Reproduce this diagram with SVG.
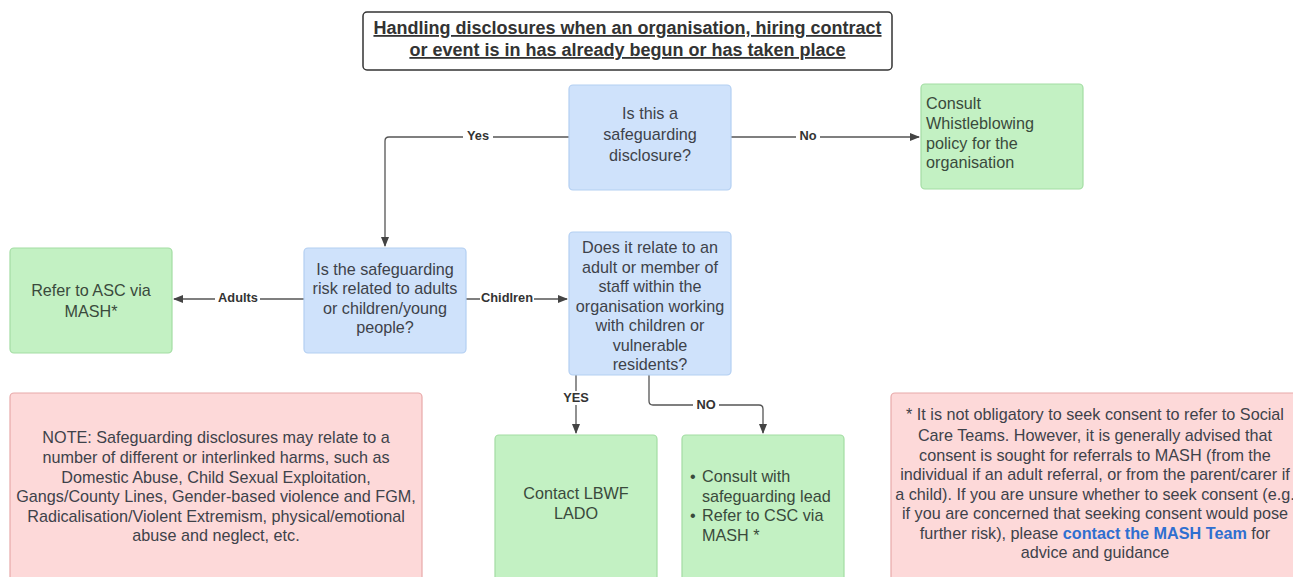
<svg xmlns="http://www.w3.org/2000/svg" width="1293" height="577" viewBox="0 0 1293 577">
<defs>
<style>
text{font-family:"Liberation Sans",Arial,sans-serif;fill:#3e424a}
.t{font-size:16.2px;text-anchor:middle}
.tl{font-size:16.2px}
.g text{fill:#3a4a3c}
.blue{fill:#cfe2fb;stroke:#b3cff2;stroke-width:1.2}
.green{fill:#c3f1c3;stroke:#a3dda3;stroke-width:1.2}
.pink{fill:#fdd9d9;stroke:#e8a9a9;stroke-width:1.2}
.ln{fill:none;stroke:#555;stroke-width:1.3}
.lb{font-size:12.8px;font-weight:bold;text-anchor:middle;fill:#333}
.bg{fill:#fff}
</style>
<marker id="ah" markerWidth="10" markerHeight="8" refX="9" refY="4" orient="auto" markerUnits="userSpaceOnUse">
<path d="M0,0 L10,4 L0,8 Z" fill="#444"/>
</marker>
</defs>
<rect width="1293" height="577" fill="#fff"/>

<g id="title">
<rect x="363" y="12" width="529" height="58" rx="4" fill="#fff" stroke="#333" stroke-width="1.5"/>
<text x="627.5" y="34" style="font-size:18px;font-weight:bold;text-anchor:middle;text-decoration:underline;fill:#333">Handling disclosures when an organisation, hiring contract</text>
<text x="627.5" y="56" style="font-size:18px;font-weight:bold;text-anchor:middle;text-decoration:underline;fill:#333">or event is in has already begun or has taken place</text>
</g>

<g id="connectors">
<path class="ln" d="M569,137 H389 Q385,137 385,141 V246" marker-end="url(#ah)"/>
<rect class="bg" x="463" y="129" width="30" height="14"/>
<text class="lb" x="478" y="140">Yes</text>
<path class="ln" d="M731,137 H919" marker-end="url(#ah)"/>
<rect class="bg" x="796" y="129" width="24" height="14"/>
<text class="lb" x="808" y="140">No</text>
<path class="ln" d="M304,299 H174" marker-end="url(#ah)"/>
<rect class="bg" x="215" y="291" width="45" height="14"/>
<text class="lb" x="238" y="302">Adults</text>
<path class="ln" d="M466,299 H567" marker-end="url(#ah)"/>
<rect class="bg" x="480" y="291" width="54" height="14"/>
<text class="lb" x="507" y="302">Chidlren</text>
<path class="ln" d="M576,375 V433" marker-end="url(#ah)"/>
<rect class="bg" x="560" y="391" width="32" height="14"/>
<text class="lb" x="576" y="402">YES</text>
<path class="ln" d="M649,375 V401 Q649,405 653,405 H759 Q763,405 763,409 V433" marker-end="url(#ah)"/>
<rect class="bg" x="693" y="398" width="26" height="14"/>
<text class="lb" x="706" y="409">NO</text>
</g>

<g id="q1">
<rect class="blue" x="569" y="85" width="162" height="105" rx="4"/>
<text class="t" x="650" y="119">Is this a</text>
<text class="t" x="650" y="140">safeguarding</text>
<text class="t" x="650" y="161">disclosure?</text>
</g>

<g id="whistle" class="g">
<rect class="green" x="921" y="84" width="162" height="105" rx="4"/>
<text class="tl" x="926" y="109">Consult</text>
<text class="tl" x="926" y="129">Whistleblowing</text>
<text class="tl" x="926" y="149">policy for the</text>
<text class="tl" x="926" y="168">organisation</text>
</g>

<g id="asc" class="g">
<rect class="green" x="10" y="248" width="162" height="105" rx="4"/>
<text class="t" x="91" y="296">Refer to ASC via</text>
<text class="t" x="91" y="317">MASH*</text>
</g>

<g id="q2">
<rect class="blue" x="304" y="248" width="162" height="105" rx="4"/>
<text class="t" x="385" y="275">Is the safeguarding</text>
<text class="t" x="385" y="294">risk related to adults</text>
<text class="t" x="385" y="314">or children/young</text>
<text class="t" x="385" y="333">people?</text>
</g>

<g id="q3">
<rect class="blue" x="569" y="232" width="162" height="143" rx="4"/>
<text class="t" x="650" y="253">Does it relate to an</text>
<text class="t" x="650" y="273">adult or member of</text>
<text class="t" x="650" y="292">staff within the</text>
<text class="t" x="650" y="312">organisation working</text>
<text class="t" x="650" y="331">with children or</text>
<text class="t" x="650" y="351">vulnerable</text>
<text class="t" x="650" y="370">residents?</text>
</g>

<g id="lado" class="g">
<rect class="green" x="495" y="435" width="162" height="150" rx="4"/>
<text class="t" x="576" y="499">Contact LBWF</text>
<text class="t" x="576" y="519">LADO</text>
</g>

<g id="consult" class="g">
<rect class="green" x="682" y="435" width="162" height="150" rx="4"/>
<text class="tl" x="690" y="482">•</text>
<text class="tl" x="702" y="482">Consult with</text>
<text class="tl" x="702" y="502">safeguarding lead</text>
<text class="tl" x="690" y="521">•</text>
<text class="tl" x="702" y="521">Refer to CSC via</text>
<text class="tl" x="702" y="541">MASH *</text>
</g>

<g id="note">
<rect class="pink" x="10" y="393" width="412" height="195" rx="4"/>
<text class="t" x="216" y="443">NOTE: Safeguarding disclosures may relate to a</text>
<text class="t" x="216" y="463">number of different or interlinked harms, such as</text>
<text class="t" x="216" y="483">Domestic Abuse, Child Sexual Exploitation,</text>
<text class="t" x="216" y="502">Gangs/County Lines, Gender-based violence and FGM,</text>
<text class="t" x="216" y="522">Radicalisation/Violent Extremism, physical/emotional</text>
<text class="t" x="216" y="541">abuse and neglect, etc.</text>
</g>

<g id="consent">
<rect class="pink" x="891" y="393" width="420" height="195" rx="4"/>
<text class="t" x="1095" y="420">* It is not obligatory to seek consent to refer to Social</text>
<text class="t" x="1095" y="441">Care Teams. However, it is generally advised that</text>
<text class="t" x="1095" y="461">consent is sought for referrals to MASH (from the</text>
<text class="t" x="1095" y="480">individual if an adult referral, or from the parent/carer if</text>
<text class="t" x="1095" y="500">a child). If you are unsure whether to seek consent (e.g.</text>
<text class="t" x="1095" y="519">if you are concerned that seeking consent would pose</text>
<text class="t" x="1095" y="539">further risk), please <tspan style="fill:#2f6fd0;font-weight:bold">contact the MASH Team</tspan> for</text>
<text class="t" x="1095" y="558">advice and guidance</text>
</g>
</svg>
